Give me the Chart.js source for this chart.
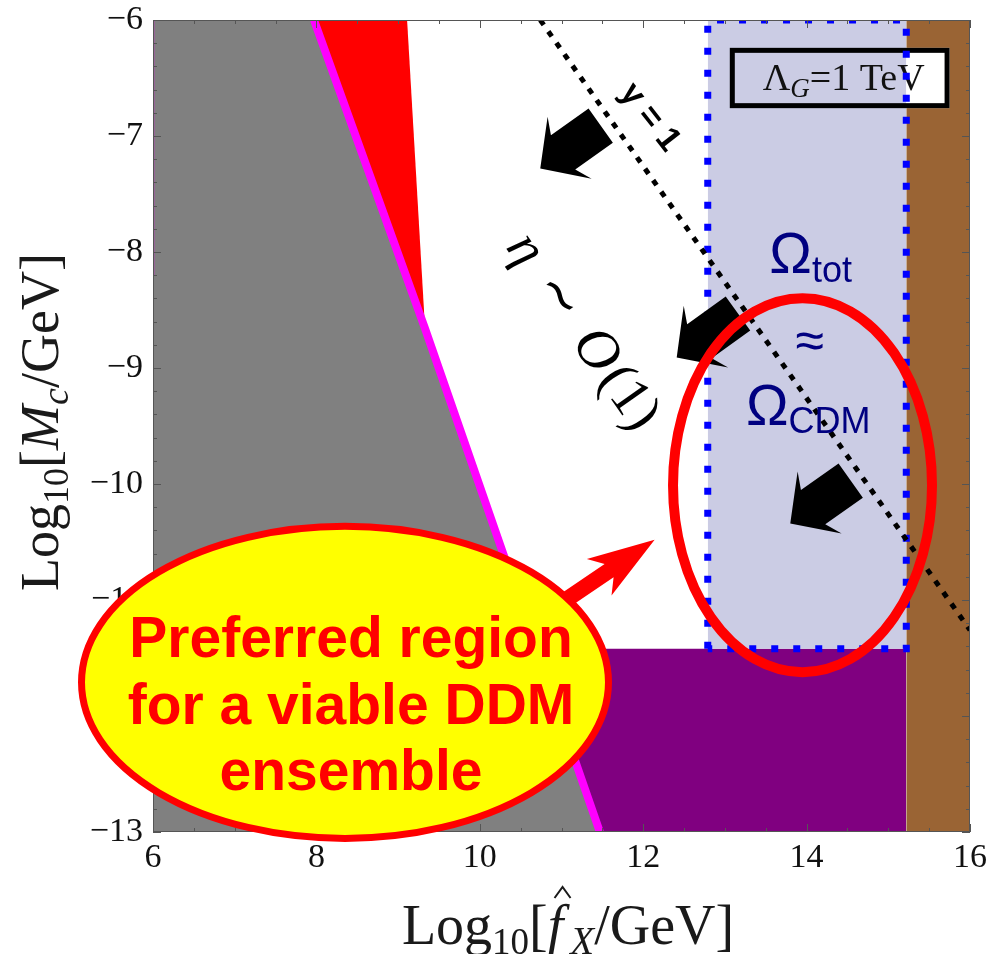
<!DOCTYPE html>
<html>
<head>
<meta charset="utf-8">
<script src="https://cdn.jsdelivr.net/npm/chart.js@4.4.1/dist/chart.umd.min.js"></script>
<style>
  html, body { margin: 0; padding: 0; background: #fff; }
  #wrap { width: 1007px; height: 954px; }
</style>
</head>
<body>
<div id="wrap"><canvas id="ddmChart" width="1007" height="954"></canvas></div>
<script>
// axis ranges
const xRange = [6, 16];
const yRange = [-13, -6];

// gray excluded region, its magenta edge
const grayX = [6, 7.97, 9.33, 11.47];
const grayY = [-6, -6, -8.66, -13];
const edgeX = [7.97, 9.33, 11.47];
const edgeY = [-6, -8.66, -13];
// red wedge above the magenta edge
const redX = [7.97, 9.11, 9.33];
const redY = [-6, -6, -8.66];
// purple strip (small Mc)
const purpleX = [6, 15.22];
const purpleY = [-11.42, -11.42];
// brown strip (large f)
const brownX = [15.22, 16];
const brownY = [-6, -6];
// Omega_tot ~ Omega_CDM window
const windowX = [12.79, 15.22];
const windowY = [-11.42, -6];
// y = 1 contour
const yOneX = [10.74, 16];
const yOneY = [-6, -11.26];
// thin contour on the left edge
const leftX = [6, 6];
const leftY = [-6, -8.2];

function pts(xs, ys) {
    return xs.map((x, i) => ({ x: x, y: ys[i] }));
}

const boxPts = pts(
    [windowX[0], windowX[0], windowX[1], windowX[1], windowX[0]],
    [windowY[0], windowY[1], windowY[1], windowY[0], windowY[0]]
);

const serif = '"Liberation Serif", "Times New Roman", serif';
const sans = '"Liberation Sans", Arial, sans-serif';

function fmt(v) {
    return v < 0 ? '\u2212' + Math.abs(v) : String(v);
}

// draw a run of text pieces: [text, font, dy, extraGap]
function richText(ctx, parts, x, y, align) {
    let w = 0;
    parts.forEach(p => { ctx.font = p[1]; w += ctx.measureText(p[0]).width + (p[3] || 0); });
    let cx = align === 'center' ? x - w / 2 : x;
    ctx.textAlign = 'left';
    const pos = [];
    parts.forEach(p => {
        ctx.font = p[1];
        const pw = ctx.measureText(p[0]).width;
        ctx.fillText(p[0], cx, y + (p[2] || 0));
        pos.push([cx, pw]);
        cx += pw + (p[3] || 0);
    });
    return pos;
}

function arrow(ctx, t, s, hl, hw, sw, join) {
    const dx = s[0] - t[0], dy = s[1] - t[1], L = Math.hypot(dx, dy);
    const ux = dx / L, uy = dy / L, vx = -uy, vy = ux;
    const P = (a, b) => [t[0] + ux * a + vx * b, t[1] + uy * a + vy * b];
    const poly = [P(0, 0), P(hl, -hw), P(join, -sw), P(L, -sw), P(L, sw), P(join, sw), P(hl, hw)];
    ctx.beginPath();
    poly.forEach((p, i) => i ? ctx.lineTo(p[0], p[1]) : ctx.moveTo(p[0], p[1]));
    ctx.closePath();
    ctx.fill();
}

// annotation anchors, in data units
const blackArrows = [
    { tip: [10.74, -7.28], tail: [11.48, -6.91] },
    { tip: [12.41, -8.91], tail: [13.16, -8.53] },
    { tip: [13.80, -10.34], tail: [14.54, -9.97] }
];
const redArrow = { tip: [12.14, -10.48], tail: [10.82, -11.11] };
const ringEllipse = { c: [13.95, -10.01], r: [1.585, 1.612] };
const bubble = { c: [8.35, -11.71], r: [3.225, 1.345] };
const bubbleLines = ['Preferred region', 'for a viable DDM', 'ensemble'];
const legendBox = { x: [13.06, 15.75], y: [-6.24, -6.76] };

function drawFrame(chart) {
    const { ctx, chartArea: a, scales } = chart;
    ctx.save();
    ctx.strokeStyle = '#555';
    ctx.lineWidth = 1;
    ctx.strokeRect(a.left + 0.5, a.top + 0.5, a.right - a.left - 1, a.bottom - a.top - 1);
    ctx.beginPath();
    for (let i = 0; i <= 20; i++) {
        const L = i % 4 === 0 ? 8 : 4;
        const x = Math.round(scales.x.getPixelForValue(6 + i * 0.5)) + 0.5;
        ctx.moveTo(x, a.bottom); ctx.lineTo(x, a.bottom - L);
        ctx.moveTo(x, a.top); ctx.lineTo(x, a.top + L);
    }
    for (let i = 0; i <= 35; i++) {
        const L = i % 5 === 0 ? 8 : 4;
        const y = Math.round(scales.y.getPixelForValue(-13 + i * 0.2)) + 0.5;
        ctx.moveTo(a.left, y); ctx.lineTo(a.left + L, y);
        ctx.moveTo(a.right, y); ctx.lineTo(a.right - L, y);
    }
    ctx.stroke();
    ctx.restore();
}

function boxRect(chart) {
    const X = v => chart.scales.x.getPixelForValue(v);
    const Y = v => chart.scales.y.getPixelForValue(v);
    return [X(legendBox.x[0]), Y(legendBox.y[0]), X(legendBox.x[1]), Y(legendBox.y[1])];
}

function drawBoxFill(chart) {
    const { ctx } = chart;
    const r = boxRect(chart);
    ctx.save();
    ctx.fillStyle = '#fff';
    ctx.fillRect(r[0], r[1], r[2] - r[0], r[3] - r[1]);
    ctx.restore();
}

function drawBoxBorder(chart) {
    const { ctx } = chart;
    const r = boxRect(chart);
    ctx.save();
    ctx.strokeStyle = '#000';
    ctx.lineWidth = 5;
    ctx.strokeRect(r[0] + 2.5, r[1] + 2.5, r[2] - r[0] - 5, r[3] - r[1] - 5);
    ctx.fillStyle = '#111';
    ctx.textBaseline = 'alphabetic';
    richText(ctx, [
        ['\u039B', '38px ' + serif],
        ['G', 'italic 27px ' + serif, 7],
        ['=1 TeV', '38px ' + serif]
    ], (r[0] + r[2]) / 2 + 4, r[1] + 42, 'center');
    ctx.restore();
}

function drawAnnotations(chart) {
    const { ctx } = chart;
    const X = v => chart.scales.x.getPixelForValue(v);
    const Y = v => chart.scales.y.getPixelForValue(v);
    ctx.save();

    // black arrows
    ctx.fillStyle = '#000';
    blackArrows.forEach(a => arrow(ctx, [X(a.tip[0]), Y(a.tip[1])], [X(a.tail[0]), Y(a.tail[1])], 36, 38, 21, 28));

    // y = 1
    ctx.save();
    ctx.translate(X(12.08), Y(-6.84));
    ctx.rotate(52 * Math.PI / 180);
    ctx.font = 'bold 34px ' + sans;
    ctx.textAlign = 'center';
    ctx.textBaseline = 'middle';
    ctx.fillText('y = 1', 0, 0);
    ctx.restore();

    // eta ~ O(1)
    ctx.save();
    ctx.translate(X(11.25), Y(-8.69));
    ctx.rotate(55 * Math.PI / 180);
    ctx.textBaseline = 'middle';
    richText(ctx, [
        ['\u03B7', 'italic 54px ' + serif, 0, 22],
        ['\u223C', '54px ' + serif, 0, 22],
        ['O', 'italic 58px ' + serif, 0, 4],
        ['(1)', '56px ' + serif]
    ], 0, 0, 'center');
    ctx.restore();

    // Omega labels
    ctx.fillStyle = '#000080';
    ctx.textBaseline = 'alphabetic';
    richText(ctx, [['\u03A9', '57px ' + sans], ['tot', '36px ' + sans, 9]], X(14.05), Y(-8.18), 'center');
    ctx.font = '52px ' + sans;
    ctx.textAlign = 'center';
    ctx.fillText('\u2248', X(14.04), Y(-8.91));
    richText(ctx, [['\u03A9', '57px ' + sans], ['CDM', '36px ' + sans, 8]], X(14.02), Y(-9.49), 'center');

    // red ring round the window
    ctx.strokeStyle = '#ff0000';
    ctx.lineWidth = 10;
    ctx.beginPath();
    ctx.ellipse(X(ringEllipse.c[0]), Y(ringEllipse.c[1]),
        X(ringEllipse.c[0] + ringEllipse.r[0]) - X(ringEllipse.c[0]),
        Y(ringEllipse.c[1] - ringEllipse.r[1]) - Y(ringEllipse.c[1]), 0, 0, 2 * Math.PI);
    ctx.stroke();

    // red arrow
    ctx.fillStyle = '#ff0000';
    arrow(ctx, [X(redArrow.tip[0]), Y(redArrow.tip[1])], [X(redArrow.tail[0]), Y(redArrow.tail[1])], 67, 22, 8, 55);

    // yellow bubble
    const bx = X(bubble.c[0]), by = Y(bubble.c[1]);
    ctx.beginPath();
    ctx.ellipse(bx, by, X(bubble.c[0] + bubble.r[0]) - bx, Y(bubble.c[1] - bubble.r[1]) - by, 0, 0, 2 * Math.PI);
    ctx.fillStyle = '#ffff00';
    ctx.fill();
    ctx.lineWidth = 7;
    ctx.strokeStyle = '#ff0000';
    ctx.stroke();
    ctx.fillStyle = '#ff0000';
    ctx.font = 'bold 57px ' + sans;
    ctx.textAlign = 'center';
    ctx.textBaseline = 'alphabetic';
    bubbleLines.forEach((t, i) => ctx.fillText(t, bx + 6, by - 25 + i * 66.5));

    ctx.restore();
}

function drawTitles(chart) {
    const { ctx } = chart;
    ctx.save();
    ctx.fillStyle = '#1a1a1a';
    ctx.textBaseline = 'alphabetic';
    // x title
    const pos = richText(ctx, [
        ['Log', '56px ' + serif],
        ['10', '37px ' + serif, 10],
        ['[', '56px ' + serif],
        ['f', 'italic 56px ' + serif, 0, 7],
        ['X', 'italic 39px ' + serif, 10],
        ['/GeV]', '56px ' + serif]
    ], 568, 944, 'center');
    const f = pos[3];
    ctx.lineWidth = 2;
    ctx.strokeStyle = '#1a1a1a';
    ctx.beginPath();
    const hx = f[0] + f[1] * 0.95;
    ctx.moveTo(hx - 8, 898); ctx.lineTo(hx, 887); ctx.lineTo(hx + 8, 898);
    ctx.stroke();
    // y title
    ctx.translate(58, 422);
    ctx.rotate(-Math.PI / 2);
    richText(ctx, [
        ['Log', '54px ' + serif],
        ['10', '36px ' + serif, 10],
        ['[', '54px ' + serif],
        ['M', 'italic 54px ' + serif],
        ['c', 'italic 38px ' + serif, 10],
        ['/GeV]', '54px ' + serif]
    ], 0, 0, 'center');
    ctx.restore();
}

const overlay = {
    id: 'overlay',
    afterDatasetDraw(chart, args) {
        const lbl = chart.data.datasets[args.index].label;
        if (lbl === 'brown') drawBoxFill(chart);
        if (lbl === 'window') drawBoxBorder(chart);
    },
    afterDatasetsDraw(chart) { drawFrame(chart); },
    afterDraw(chart) {
        drawAnnotations(chart);
        drawTitles(chart);
    }
};

function area(label, data, color, fill, order) {
    return {
        label: label, data: data, order: order,
        borderWidth: 0, borderColor: 'transparent',
        backgroundColor: color, fill: fill,
        pointRadius: 0, tension: 0
    };
}

function curve(label, data, color, width, dash, order) {
    return {
        label: label, data: data, order: order,
        borderWidth: width, borderColor: color, borderDash: dash,
        borderCapStyle: 'butt', fill: false,
        pointRadius: 0, tension: 0
    };
}

const tickFont = { family: serif, size: 34 };

new Chart(document.getElementById('ddmChart'), {
    type: 'line',
    data: {
        datasets: [
            area('purple', pts(purpleX, purpleY), '#800080', 'start', 10),
            area('red', pts(redX, redY), '#ff0000', 'start', 9),
            area('gray', pts(grayX, grayY), '#808080', 'start', 8),
            area('brown', pts(brownX, brownY), '#9a6434', 'start', 7),
            area('window', pts(windowX, [windowY[1], windowY[1]]), '#cbcce4', { value: windowY[0] }, 6),
            curve('edge', pts(edgeX, edgeY), '#ff00ff', 8, [], 5),
            curve('left', pts(leftX, leftY), '#b04ab0', 3, [], 5),
            curve('windowBorder', boxPts, '#0000ff', 7, [7, 15], 4),
            curve('yOne', pts(yOneX, yOneY), '#000000', 5, [6, 8], 3)
        ]
    },
    options: {
        responsive: false,
        animation: false,
        events: [],
        layout: { padding: { top: 20, right: 37, left: 0, bottom: 0 } },
        plugins: { legend: { display: false }, tooltip: { enabled: false } },
        scales: {
            x: {
                type: 'linear', min: xRange[0], max: xRange[1],
                grid: { display: false, drawTicks: false },
                border: { display: false },
                ticks: { stepSize: 2, font: tickFont, color: '#111', padding: 6, callback: fmt, maxRotation: 0 },
                afterFit: s => { s.height = 122; s.paddingLeft = 0; s.paddingRight = 0; }
            },
            y: {
                type: 'linear', min: yRange[0], max: yRange[1],
                grid: { display: false, drawTicks: false },
                border: { display: false },
                ticks: { stepSize: 1, font: tickFont, color: '#111', padding: 10, callback: fmt },
                afterFit: s => { s.width = 153; s.paddingTop = 0; s.paddingBottom = 0; }
            }
        }
    },
    plugins: [overlay]
});
</script>
</body>
</html>
